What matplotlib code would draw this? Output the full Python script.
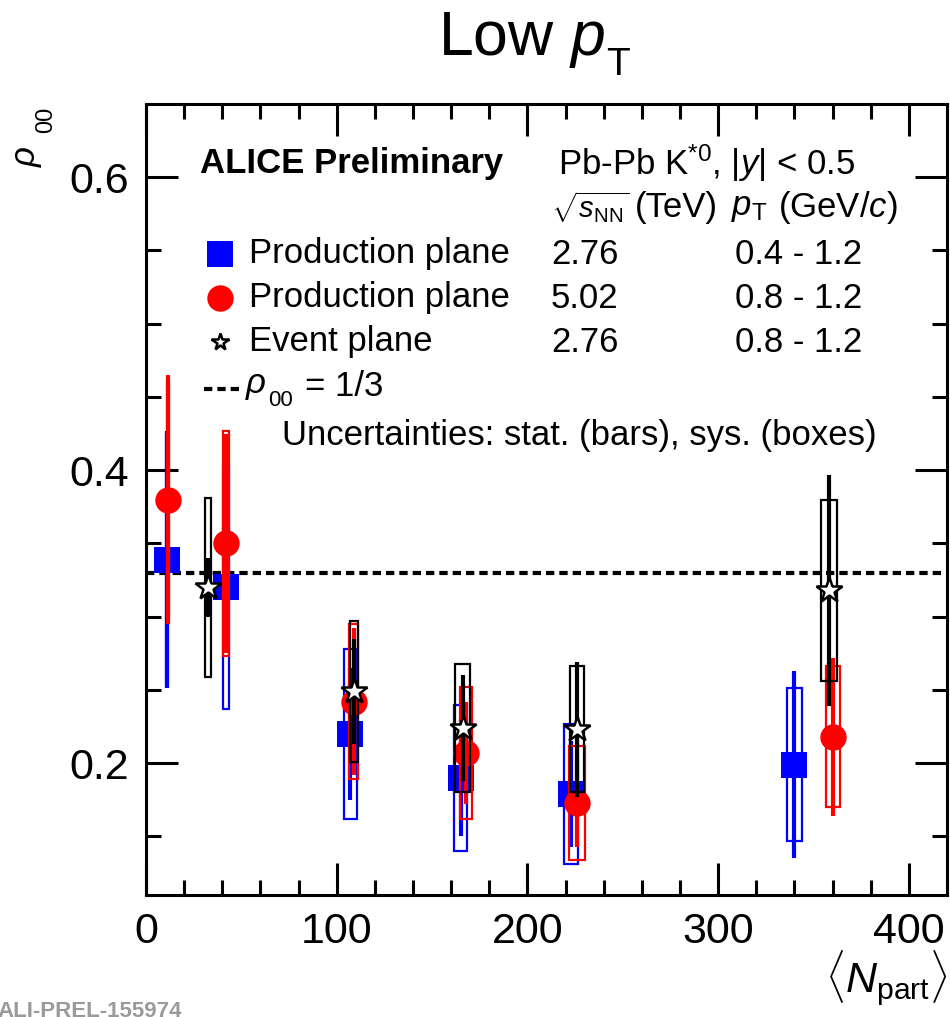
#!/usr/bin/env python
# Low pT rho_00 vs <Npart> for K*0 in Pb-Pb

import matplotlib
matplotlib.use('Agg')
import matplotlib.pyplot as plt
from matplotlib.patches import Rectangle

plt.rcParams['font.family'] = ['Liberation Sans', 'DejaVu Sans']
plt.rcParams['mathtext.fontset'] = 'custom'
plt.rcParams['mathtext.rm'] = 'Liberation Sans'
plt.rcParams['mathtext.it'] = 'Liberation Sans:italic'
plt.rcParams['mathtext.bf'] = 'Liberation Sans:bold'

# Production plane, 2.76 TeV, 0.4 - 1.2 GeV/c
pp276_npart = [11.0, 42.0, 107.0, 165.0, 223.0, 340.0]
pp276_rho = [0.339, 0.320, 0.220, 0.190, 0.179, 0.199]
pp276_stat = [0.088, 0.040, 0.045, 0.040, 0.036, 0.064]
pp276_sys = [0.085, 0.083, 0.058, 0.050, 0.048, 0.052]
pp276_dx = [1.5, 3.2, 6.8, 6.8, 7.3, 7.9]

# Production plane, 5.02 TeV, 0.8 - 1.2 GeV/c
pp502_npart = [11.5, 42.0, 109.0, 168.0, 226.0, 360.0]
pp502_rho = [0.380, 0.350, 0.242, 0.207, 0.173, 0.218]
pp502_stat = [0.085, 0.075, 0.050, 0.035, 0.030, 0.054]
pp502_sys = [0.080, 0.077, 0.053, 0.045, 0.039, 0.048]
pp502_dx = [1.5, 3.5, 4.7, 6.3, 7.9, 7.3]

# Event plane, 2.76 TeV, 0.8 - 1.2 GeV/c
ep276_npart = [32.5, 109.0, 166.0, 226.0, 358.0]
ep276_rho = [0.320, 0.249, 0.224, 0.223, 0.318]
ep276_stat = [0.020, 0.036, 0.036, 0.046, 0.079]
ep276_sys = [0.061, 0.048, 0.044, 0.043, 0.062]
ep276_dx = [3.2, 4.4, 7.9, 7.3, 8.4]

rho_ref = 0.33

W, H = 950, 1017


def pix(px, py):
    # figure pixel -> axes fraction
    return (px - 146) / 801.0, (895 - py) / 791.0


def fpix(px, py):
    # figure pixel -> figure fraction
    return px / W, 1 - py / H


def draw_series(ax, x, y, stat, sys, dx, color, marker, ms, face, z):
    for xi, yi, si, wi in zip(x, y, sys, dx):
        ax.add_patch(Rectangle((xi - wi / 2, yi - si), wi, 2 * si, fill=False,
                               edgecolor=color, lw=1.6, zorder=z))
    ax.errorbar(x, y, yerr=stat, fmt='none', ecolor=color, elinewidth=3,
                capsize=0, zorder=z + 0.1)
    ax.plot(x, y, linestyle='none', marker=marker, ms=ms, color=color,
            markerfacecolor=face, markeredgecolor=color,
            markeredgewidth=1.8 if face == 'white' else 0, zorder=z + 0.2)


def main():
    fig = plt.figure(figsize=(W / 100, H / 100), dpi=100)
    ax = fig.add_axes([146 / W, 1 - 895 / H, 801 / W, 791 / H])

    ax.set_xlim(0, 420)
    ax.set_ylim(0.11, 0.65)

    dots = (0, (2.0, 1.2))
    ax.axhline(rho_ref, color='black', lw=3, linestyle=dots, zorder=1)

    draw_series(ax, pp276_npart, pp276_rho, pp276_stat, pp276_sys, pp276_dx,
                '#0000ff', 's', 19, '#0000ff', 2)
    draw_series(ax, pp502_npart, pp502_rho, pp502_stat, pp502_sys, pp502_dx,
                '#ff0000', 'o', 19, '#ff0000', 3)
    draw_series(ax, ep276_npart, ep276_rho, ep276_stat, ep276_sys, ep276_dx,
                'black', '*', 19, 'white', 4)

    # axes styling
    ax.set_xticks([0, 100, 200, 300, 400])
    ax.set_xticks(range(0, 421, 20), minor=True)
    ax.set_yticks([0.2, 0.4, 0.6])
    ax.set_yticks([0.15 + 0.05 * i for i in range(10)], minor=True)
    ax.set_yticklabels(['0.2', '0.4', '0.6'])
    for sp in ax.spines.values():
        sp.set_linewidth(2.2)
    ax.tick_params(which='both', direction='in', top=True, right=True,
                   width=2.2, labelsize=31)
    ax.tick_params(which='major', length=23, pad=12)
    ax.tick_params(which='minor', length=11)

    # title
    fig.text(*fpix(438, 55), r'Low $p$', fontsize=45, ha='left', va='baseline')
    fig.text(*fpix(606, 75), 'T', fontsize=28, ha='left', va='baseline')

    # y-axis title, rho with a detached subscript
    t = ax.transAxes
    ax.text(*pix(28, 156), r'$\rho$', transform=t, rotation=90,
            ha='center', va='center', fontsize=25)
    ax.text(*pix(46, 120), '00', transform=t, rotation=90,
            ha='center', va='center', fontsize=17)
    ax.text(1.0, -0.068, r'$\langle N_{\mathrm{part}}\rangle$', transform=t,
            ha='right', va='top', fontsize=31)

    # legend block
    fs = 25
    ax.text(*pix(200, 163), 'ALICE Preliminary', transform=t, fontsize=fs,
            fontweight='bold', va='center', ha='left')
    ax.text(*pix(558, 163), r'Pb-Pb K$^{*0}$, |$y$| < 0.5', transform=t,
            fontsize=fs, va='center', ha='left')
    ax.text(*pix(551, 207), r'$\sqrt{s_{\mathrm{NN}}}$', transform=t,
            fontsize=21, va='center', ha='left')
    ax.text(*pix(635, 208), '(TeV)', transform=t,
            fontsize=fs, va='center', ha='left')
    ax.text(*pix(731, 208), r'$p_{\mathrm{T}}$', transform=t,
            fontsize=fs, va='center', ha='left')
    ax.text(*pix(778, 208), '(GeV/$c$)', transform=t,
            fontsize=fs, va='center', ha='left')

    rows = [
        ('s', '#0000ff', '#0000ff', 19, 'Production plane', '2.76', '0.4 - 1.2', 254),
        ('o', '#ff0000', '#ff0000', 19, 'Production plane', '5.02', '0.8 - 1.2', 298),
        ('*', 'black', 'white', 13, 'Event plane', '2.76', '0.8 - 1.2', 342),
    ]
    for mk, col, face, ms, label, energy, ptr, py in rows:
        mx, my = pix(220, py)
        ax.plot([mx], [my], marker=mk, ms=ms, color=col, markerfacecolor=face,
                markeredgecolor=col, markeredgewidth=1.8 if face == 'white' else 0,
                transform=t, clip_on=False, zorder=10)
        ax.text(*pix(249, py), label, transform=t, fontsize=fs, va='center', ha='left')
        ax.text(*pix(551, py), energy, transform=t, fontsize=fs, va='center', ha='left')
        ax.text(*pix(735, py), ptr, transform=t, fontsize=fs, va='center', ha='left')

    lx0, ly = pix(204, 389)
    lx1, _ = pix(240, 389)
    ax.plot([lx0, lx1], [ly, ly], color='black', lw=3, linestyle=dots,
            transform=t, clip_on=False)
    ax.text(*pix(245, 386), r'$\rho$', transform=t, fontsize=fs,
            va='center', ha='left')
    ax.text(*pix(268, 400), '00', transform=t, fontsize=16,
            va='center', ha='left')
    ax.text(*pix(305, 386), '= 1/3', transform=t, fontsize=fs,
            va='center', ha='left')
    ax.text(*pix(282, 436), 'Uncertainties: stat. (bars), sys. (boxes)', transform=t,
            fontsize=fs, va='center', ha='left')

    fig.text(-3 / W, -5 / H, 'ALI-PREL-155974', fontsize=16, fontweight='bold',
             color='#9a9a9a', ha='left', va='bottom')

    fig.savefig('out.png', dpi=100)
    plt.close(fig)
    return 0


if __name__ == '__main__':
    exit(main())
